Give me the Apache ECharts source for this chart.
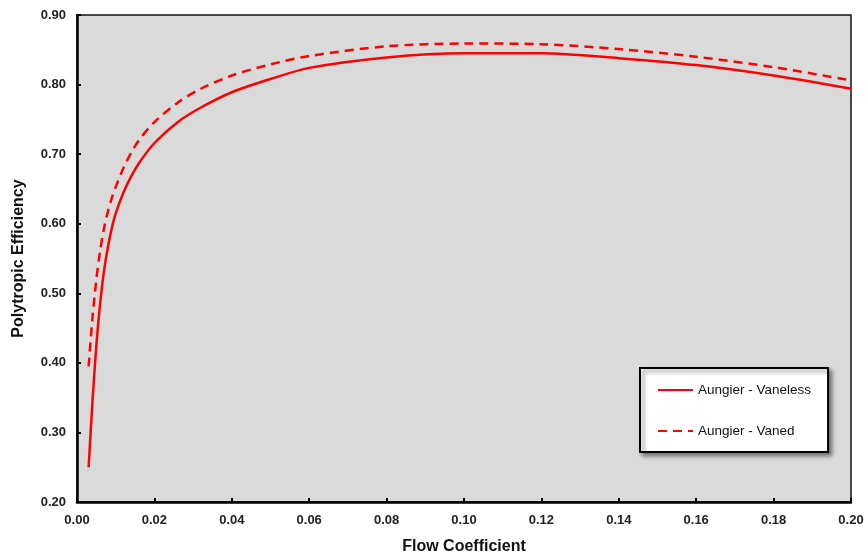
<!DOCTYPE html>
<html>
<head>
<meta charset="utf-8">
<script src="https://cdn.jsdelivr.net/npm/echarts@6/dist/echarts.min.js"></script>
<style>
  html, body { margin: 0; padding: 0; background: #fff; }
  #chart { width: 868px; height: 560px; }
</style>
</head>
<body>
<div id="chart"></div>
<script>
// flow coefficient (x) and polytropic efficiency
const flowCoeff = [0.003, 0.004, 0.005, 0.006, 0.007, 0.008, 0.009, 0.01, 0.012, 0.014, 0.016, 0.02, 0.026, 0.032, 0.04, 0.05, 0.06, 0.08, 0.10, 0.12, 0.14, 0.16, 0.18, 0.20];
const vaneless  = [0.25, 0.345, 0.425, 0.487, 0.533, 0.567, 0.594, 0.615, 0.645, 0.668, 0.687, 0.716, 0.746, 0.767, 0.789, 0.808, 0.824, 0.839, 0.845, 0.845, 0.838, 0.828, 0.813, 0.794];
const vaned     = [0.395, 0.465, 0.52, 0.562, 0.594, 0.618, 0.637, 0.653, 0.680, 0.702, 0.720, 0.746, 0.774, 0.794, 0.813, 0.829, 0.841, 0.855, 0.859, 0.858, 0.851, 0.840, 0.825, 0.806];
const seriesNames = ["Aungier - Vaneless", "Aungier - Vaned"];

const font = "Liberation Sans, Arial, sans-serif";
const pairs = (ys) => flowCoeff.map((x, i) => [x, ys[i]]);

const chart = echarts.init(document.getElementById("chart"));
chart.setOption({
  animation: false,
  grid: {
    left: 77, top: 15, right: 17, bottom: 58,
    outerBoundsMode: "none",
    show: true,
    backgroundColor: "#dadada",
    borderColor: "#111",
    borderWidth: 1.5
  },
  xAxis: {
    type: "value",
    min: 0, max: 0.2, interval: 0.02,
    name: "Flow Coefficient",
    nameLocation: "middle",
    nameGap: 37,
    nameTextStyle: { fontFamily: font, fontWeight: "bold", fontSize: 16, color: "#111" },
    axisLine: { show: true, lineStyle: { color: "#000", width: 2.5 } },
    axisTick: { show: true, inside: true, length: 4, lineStyle: { color: "#000", width: 2 } },
    axisLabel: {
      fontFamily: font, fontWeight: "bold", fontSize: 13, color: "#222", margin: 12,
      formatter: (v) => v.toFixed(2)
    },
    splitLine: { show: false }
  },
  yAxis: {
    type: "value",
    min: 0.2, max: 0.9, interval: 0.1,
    name: "Polytropic Efficiency",
    nameLocation: "middle",
    nameGap: 50,
    nameTextStyle: { fontFamily: font, fontWeight: "bold", fontSize: 16, color: "#111" },
    axisLine: { show: true, lineStyle: { color: "#000", width: 2.5 } },
    axisTick: { show: true, inside: true, length: 4, lineStyle: { color: "#000", width: 2 } },
    axisLabel: {
      fontFamily: font, fontWeight: "bold", fontSize: 13, color: "#222", margin: 11,
      formatter: (v) => v.toFixed(2)
    },
    splitLine: { show: false }
  },
  legend: {
    orient: "vertical",
    left: 640, top: 368,
    padding: [15, 17, 14, 17],
    itemGap: 27,
    itemWidth: 35,
    itemHeight: 14,
    backgroundColor: "#fff",
    borderColor: "#000",
    borderWidth: 2,
    borderRadius: 0,
    shadowColor: "rgba(0,0,0,0.45)",
    shadowBlur: 4,
    shadowOffsetX: 3,
    shadowOffsetY: 3,
    itemStyle: { opacity: 0 },
    textStyle: { fontFamily: font, fontSize: 13.5, color: "#111" },
    data: seriesNames
  },
  series: [
    {
      name: seriesNames[0],
      type: "line",
      smooth: 0.3,
      symbol: "none",
      data: pairs(vaneless),
      lineStyle: { color: "#ff0000", width: 2.5 },
      itemStyle: { color: "#ff0000" }
    },
    {
      name: seriesNames[1],
      type: "line",
      smooth: 0.3,
      symbol: "none",
      data: pairs(vaned),
      lineStyle: { color: "#ff0000", width: 2.5, type: [9, 6] },
      itemStyle: { color: "#ff0000" }
    }
  ]
});
</script>
</body>
</html>
